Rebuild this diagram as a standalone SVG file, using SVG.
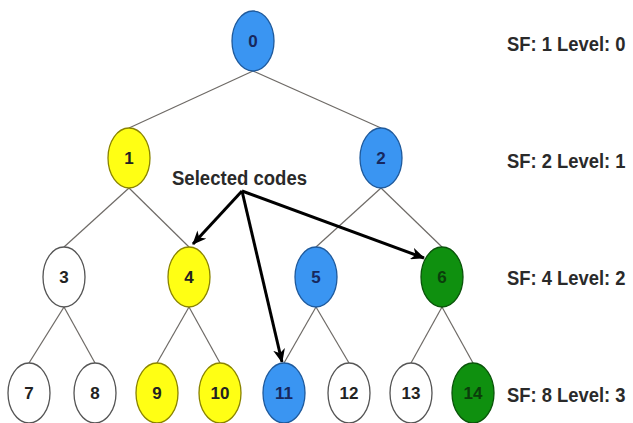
<svg xmlns="http://www.w3.org/2000/svg" width="633" height="423" viewBox="0 0 633 423">
  <defs>
    <marker id="arrowhead" viewBox="0 0 14 12" refX="13" refY="6" markerWidth="14" markerHeight="12" markerUnits="userSpaceOnUse" orient="auto">
      <path d="M0,0 L14,6 L0,12 L4,6 Z" fill="#000"/>
    </marker>
  </defs>
  <style>
    .edge { stroke: #6e6a66; stroke-width: 1.2; fill: none; }
    .sel { stroke: #000; stroke-width: 3; fill: none; marker-end: url(#arrowhead); }
    ellipse { stroke-width: 1.3; }
    .blue { fill: #3a95f2; stroke: #1f5a9c; }
    .yellow { fill: #ffff14; stroke: #8a8400; }
    .green { fill: #0f900f; stroke: #0a540a; }
    .white { fill: #ffffff; stroke: #555; }
    .num { font-family: "Liberation Sans", Arial, sans-serif; font-weight: bold; font-size: 17px; text-anchor: middle; }
    .tb { fill: #17285e; }
    .tk { fill: #222; }
    .tg { fill: #0b3d0b; }
    .lbl { font-family: "Liberation Sans", Arial, sans-serif; font-weight: bold; font-size: 20px; fill: #2a2a2a; }
  </style>

  <!-- tree edges and selection arrows -->
  <g id="connectors">
    <line class="edge" x1="253" y1="71" x2="129" y2="128"/>
    <line class="edge" x1="253" y1="71" x2="381" y2="128"/>
    <line class="edge" x1="129" y1="188" x2="64" y2="247"/>
    <line class="edge" x1="129" y1="188" x2="189" y2="247"/>
    <line class="edge" x1="381" y1="188" x2="316" y2="247"/>
    <line class="edge" x1="381" y1="188" x2="442" y2="247"/>
    <line class="edge" x1="64" y1="307" x2="29" y2="363"/>
    <line class="edge" x1="64" y1="307" x2="95" y2="363"/>
    <line class="edge" x1="189" y1="307" x2="157" y2="363"/>
    <line class="edge" x1="189" y1="307" x2="220" y2="363"/>
    <line class="edge" x1="316" y1="307" x2="284" y2="363"/>
    <line class="edge" x1="316" y1="307" x2="349" y2="363"/>
    <line class="edge" x1="442" y1="307" x2="411" y2="363"/>
    <line class="edge" x1="442" y1="307" x2="473" y2="363"/>
    <line class="sel" x1="242" y1="191" x2="193" y2="244"/>
    <line class="sel" x1="242" y1="191" x2="282" y2="362"/>
    <line class="sel" x1="242" y1="191" x2="424" y2="258"/>
  </g>

  <g id="node-0"><ellipse class="blue" cx="253" cy="41" rx="21" ry="30"/><text class="num tb" x="253" y="47">0</text></g>
  <g id="node-1"><ellipse class="yellow" cx="129" cy="158" rx="21" ry="30"/><text class="num tk" x="129" y="164">1</text></g>
  <g id="node-2"><ellipse class="blue" cx="381" cy="158" rx="21" ry="30"/><text class="num tb" x="381" y="164">2</text></g>
  <g id="node-3"><ellipse class="white" cx="64" cy="277" rx="21" ry="30"/><text class="num tk" x="64" y="283">3</text></g>
  <g id="node-4"><ellipse class="yellow" cx="189" cy="277" rx="21" ry="30"/><text class="num tk" x="189" y="283">4</text></g>
  <g id="node-5"><ellipse class="blue" cx="316" cy="277" rx="21" ry="30"/><text class="num tb" x="316" y="283">5</text></g>
  <g id="node-6"><ellipse class="green" cx="442" cy="277" rx="21" ry="30"/><text class="num tg" x="442" y="283">6</text></g>
  <g id="node-7"><ellipse class="white" cx="29" cy="393" rx="21" ry="30"/><text class="num tk" x="29" y="399">7</text></g>
  <g id="node-8"><ellipse class="white" cx="95" cy="393" rx="21" ry="30"/><text class="num tk" x="95" y="399">8</text></g>
  <g id="node-9"><ellipse class="yellow" cx="157" cy="393" rx="21" ry="30"/><text class="num tk" x="157" y="399">9</text></g>
  <g id="node-10"><ellipse class="yellow" cx="220" cy="393" rx="21" ry="30"/><text class="num tk" x="220" y="399">10</text></g>
  <g id="node-11"><ellipse class="blue" cx="284" cy="393" rx="21" ry="30"/><text class="num tb" x="284" y="399">11</text></g>
  <g id="node-12"><ellipse class="white" cx="349" cy="393" rx="21" ry="30"/><text class="num tk" x="349" y="399">12</text></g>
  <g id="node-13"><ellipse class="white" cx="411" cy="393" rx="21" ry="30"/><text class="num tk" x="411" y="399">13</text></g>
  <g id="node-14"><ellipse class="green" cx="473" cy="393" rx="21" ry="30"/><text class="num tg" x="473" y="399">14</text></g>

  <g id="caption">
    <text class="lbl" x="172" y="185" textLength="135" lengthAdjust="spacingAndGlyphs">Selected codes</text>
  </g>

  <!-- level labels, narrowed horizontally -->
  <g id="level-labels">
    <text class="lbl" transform="translate(507,51) scale(0.92,1)">SF: 1 Level: 0</text>
    <text class="lbl" transform="translate(507,168) scale(0.92,1)">SF: 2 Level: 1</text>
    <text class="lbl" transform="translate(507,285) scale(0.92,1)">SF: 4 Level: 2</text>
    <text class="lbl" transform="translate(507,402) scale(0.92,1)">SF: 8 Level: 3</text>
  </g>
</svg>
